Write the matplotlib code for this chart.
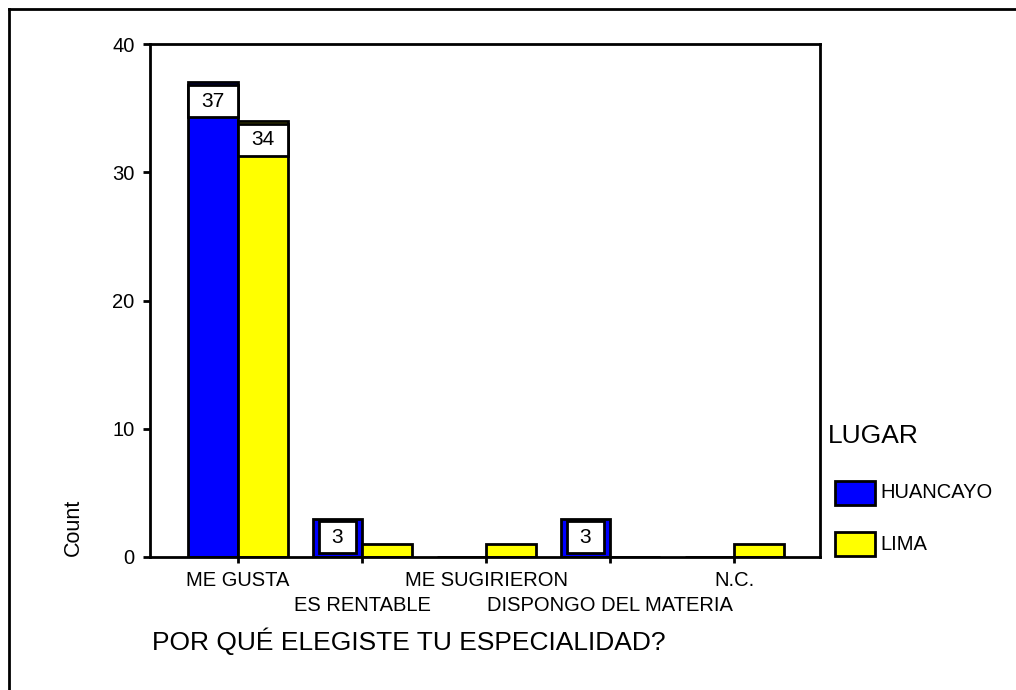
import matplotlib.pyplot as plt
from matplotlib.patches import Rectangle
from matplotlib.lines import Line2D
import numpy as np

# data
categories = ["ME GUSTA", "ES RENTABLE", "ME SUGIRIERON", "DISPONGO DEL MATERIA", "N.C."]
huancayo = [37, 3, 0, 3, 0]
lima = [34, 1, 1, 0, 1]
series_names = ["HUANCAYO", "LIMA"]
series_colors = ["#0000ff", "#ffff00"]

plt.rcParams["font.family"] = ["Liberation Sans", "DejaVu Sans"]

fig = plt.figure(figsize=(10.16, 6.9), dpi=100)
ax = fig.add_axes([150 / 1016, 133 / 690, 670 / 1016, 513 / 690])

x = np.arange(len(categories))
w = 0.4
lw = 2.0
for vals, off, col in [(huancayo, -w / 2, series_colors[0]), (lima, w / 2, series_colors[1])]:
    ax.bar(x + off, vals, width=w, color=col, edgecolor="black", linewidth=lw, zorder=2)

# value boxes on the HUANCAYO bars (and LIMA's biggest one), SPSS style
box_h = 2.5
labelled = [(huancayo, -w / 2, [0, 1, 3]), (lima, w / 2, [0])]
for vals, off, idx in labelled:
    for i in idx:
        v = vals[i]
        inset = 0.05 if v < 5 else 0.0
        ax.bar(x[i] + off, box_h, bottom=v - 0.2 - box_h, width=w - 2 * inset,
               color="white", edgecolor="black", linewidth=lw, zorder=3)
        ax.text(x[i] + off, v - 0.2 - box_h / 2, str(v), ha="center", va="center",
                fontsize=15, zorder=4)

ax.set_ylim(0, 40)
ax.set_xlim(-0.71, 4.69)
ax.set_yticks([0, 10, 20, 30, 40])
ax.set_xticks(x)
ax.set_xticklabels(categories, fontsize=14.5)
ax.tick_params(axis="y", direction="out", length=5, width=2, labelsize=14.5, pad=6)
ax.tick_params(axis="x", direction="out", length=4, width=2, pad=6)
# staggered category labels
for t in ax.xaxis.get_major_ticks()[1::2]:
    t.set_pad(24)
for s in ax.spines.values():
    s.set_linewidth(lw)

ax.set_ylabel("Count", fontsize=15.5)
ax.yaxis.set_label_coords(-0.098, 0.057)

# legend drawn by hand
fig.text(828 / 1016, 1 - 436 / 690, "LUGAR", fontsize=19, ha="left", va="center")
for k, (name, col) in enumerate(zip(series_names, series_colors)):
    top = 481 + k * 51
    fig.add_artist(Rectangle((835 / 1016, 1 - (top + 24) / 690), 40 / 1016, 24 / 690,
                             facecolor=col, edgecolor="black", linewidth=lw,
                             transform=fig.transFigure))
    fig.text(880 / 1016, 1 - (top + 12) / 690, name, fontsize=14.5, ha="left", va="center")

fig.text(152 / 1016, 1 - 641 / 690, "POR QUÉ ELEGISTE TU ESPECIALIDAD?",
         fontsize=19, ha="left", va="center")

# outer frame (left and top edges)
fig.add_artist(Line2D([9 / 1016, 9 / 1016], [0, 1 - 9 / 690], color="black", linewidth=lw,
                      transform=fig.transFigure))
fig.add_artist(Line2D([9 / 1016, 1], [1 - 9 / 690, 1 - 9 / 690], color="black", linewidth=lw,
                      transform=fig.transFigure))

fig.savefig("out.png", dpi=100)
